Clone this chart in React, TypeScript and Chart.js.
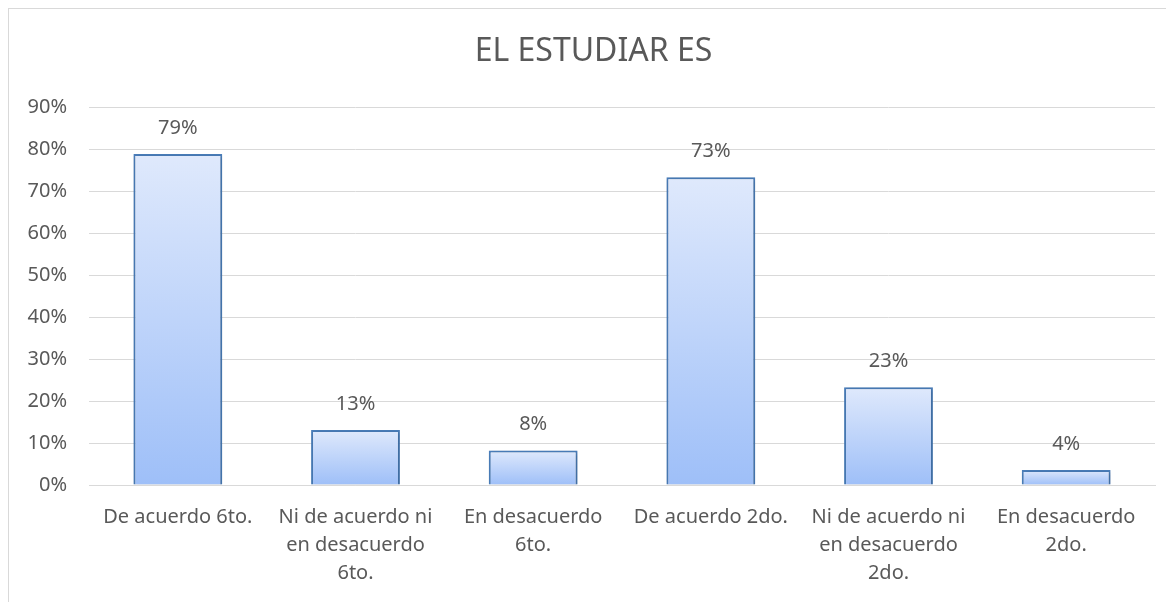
import React, { useEffect, useRef } from "react";
import { Chart, registerables } from "chart.js";

Chart.register(...registerables);

const titleText = "EL ESTUDIAR ES";
const categories: string[][] = [
  ["De acuerdo 6to."],
  ["Ni de acuerdo ni", "en desacuerdo", "6to."],
  ["En desacuerdo", "6to."],
  ["De acuerdo 2do."],
  ["Ni de acuerdo ni", "en desacuerdo", "2do."],
  ["En desacuerdo", "2do."],
];
const values: number[] = [78.8, 13.1, 8.2, 73.3, 23.3, 3.6];
const yMin = 0;
const yMax = 90;
const yStep = 10;

const FONT = "'Noto Sans', 'DejaVu Sans', sans-serif";
const TEXT = "#595959";

const shadowPlugin = {
  id: "barShadow",
  beforeDatasetsDraw(chart: any) {
    const ctx = chart.ctx;
    ctx.save();
    ctx.shadowColor = "rgba(0,0,0,0.22)";
    ctx.shadowBlur = 4;
    ctx.shadowOffsetX = 1;
    ctx.shadowOffsetY = 1;
  },
  afterDatasetsDraw(chart: any) {
    chart.ctx.restore();
  },
};

const labelPlugin = {
  id: "valueLabels",
  afterDatasetsDraw(chart: any) {
    const ctx = chart.ctx;
    const meta = chart.getDatasetMeta(0);
    ctx.save();
    ctx.font = `20px ${FONT}`;
    ctx.fillStyle = TEXT;
    ctx.textAlign = "center";
    ctx.textBaseline = "middle";
    meta.data.forEach((bar: any, i: number) => {
      const v = values[i];
      ctx.fillText(`${Math.round(v)}%`, bar.x, bar.y - 26);
    });
    ctx.restore();
  },
};

const titlePlugin = {
  id: "frameTitle",
  afterDraw(chart: any) {
    const ctx = chart.ctx;
    ctx.save();
    ctx.font = `32px ${FONT}`;
    ctx.fillStyle = TEXT;
    ctx.textAlign = "center";
    ctx.textBaseline = "middle";
    ctx.fillText(titleText, chart.width / 2 + 2, 43);
    ctx.restore();
  },
};

export default function App() {
  const ref = useRef<HTMLCanvasElement | null>(null);

  useEffect(() => {
    if (!ref.current) return;
    const chart = new Chart(ref.current, {
      type: "bar",
      data: {
        labels: categories,
        datasets: [
          {
            data: values,
            backgroundColor: (context: any) => {
              const c = context.chart;
              const y = c.scales && c.scales.y;
              if (!c.chartArea || !y || context.parsed == null) return "#c0d6fa";
              const top = y.getPixelForValue(context.parsed.y);
              const bottom = y.getPixelForValue(0);
              if (!isFinite(top) || !isFinite(bottom) || top === bottom) return "#c0d6fa";
              const g = c.ctx.createLinearGradient(0, top, 0, bottom);
              g.addColorStop(0, "#dfe9fc");
              g.addColorStop(1, "#9ebff8");
              return g;
            },
            borderColor: "#4a7ebb",
            borderWidth: 2,
            barPercentage: 0.5,
            categoryPercentage: 1,
          },
        ],
      },
      options: {
        animation: false,
        responsive: false,
        maintainAspectRatio: false,
        layout: { padding: { left: 0, right: 19, top: 98, bottom: 0 } },
        plugins: {
          legend: { display: false },
          tooltip: { enabled: false },
          title: { display: false },
        },
        scales: {
          x: {
            grid: { display: false, drawTicks: false },
            border: { display: true, color: "#d9d9d9", width: 1 },
            ticks: {
              color: TEXT,
              font: { family: FONT, size: 20, lineHeight: 1.4 },
              padding: 18,
              maxRotation: 0,
              autoSkip: false,
            },
            afterFit: (scale: any) => {
              scale.height = 117;
            },
          },
          y: {
            min: yMin,
            max: yMax,
            grid: { color: "#d9d9d9", lineWidth: 1, drawTicks: false },
            border: { display: false },
            ticks: {
              stepSize: yStep,
              color: TEXT,
              font: { family: FONT, size: 20 },
              padding: 22,
              callback: (v: any) => `${v}%`,
            },
            afterFit: (scale: any) => {
              scale.width = 80;
            },
          },
        },
      },
      plugins: [shadowPlugin, labelPlugin, titlePlugin],
    });
    return () => chart.destroy();
  }, []);

  return (
    <div
      style={{
        position: "relative",
        width: 1165,
        height: 593,
        borderLeft: "1px solid #d9d9d9",
        borderTop: "1px solid #d9d9d9",
        background: "#fff",
        overflow: "hidden",
      }}
    >
      <canvas ref={ref} width={1165} height={593} style={{ display: "block" }} />
    </div>
  );
}
